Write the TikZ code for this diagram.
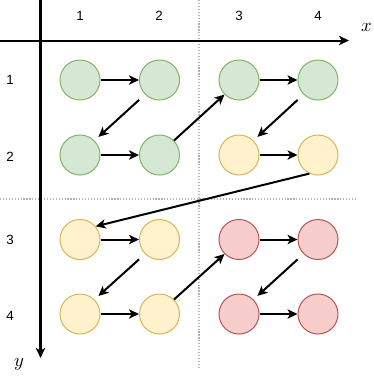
\documentclass[tikz,border=0pt]{standalone}
\usepackage{fontspec}
\setmainfont{Liberation Sans}
\usepackage{unicode-math}
\setmathfont{Latin Modern Math}
\usetikzlibrary{arrows.meta}
\definecolor{gfill}{HTML}{D5E8D4}\definecolor{gline}{HTML}{82B366}
\definecolor{yfill}{HTML}{FFF2CC}\definecolor{yline}{HTML}{D6B656}
\definecolor{rfill}{HTML}{F8CECC}\definecolor{rline}{HTML}{B85450}
\tikzset{
  cell/.style={circle,minimum size=30pt,inner sep=0pt,line width=0.75pt},
  gcell/.style={cell,fill=gfill,draw=gline},
  ycell/.style={cell,fill=yfill,draw=yline},
  rcell/.style={cell,fill=rfill,draw=rline},
  conn/.style={line width=1.5pt,-{Stealth[length=7.5pt,width=7pt,inset=2pt]}},
  axis/.style={line width=1.5pt,-{Stealth[length=7.5pt,width=7pt,inset=2pt]}},
  grid/.style={line width=1.1pt,color=black!30,dash pattern=on 0.9pt off 1.3pt},
  num/.style={font=\fontsize{10}{12}\selectfont,inner sep=0pt},
  axlab/.style={font=\fontsize{14}{16}\selectfont,inner sep=0pt}
}
\begin{document}
\begin{tikzpicture}[x=0.75pt,y=-0.75pt]
\useasboundingbox (0,0) rectangle (374,376);
% dotted grid
\coordinate (vt) at (199,0); \coordinate (vb) at (199,368);
\coordinate (hl) at (0,199); \coordinate (hr) at (357,199);
\draw[grid] (vt) -- (vb);
\draw[grid] (hl) -- (hr);
% axes
\coordinate (xs) at (0,40.5); \coordinate (xe) at (349,40.5);
\coordinate (ys) at (40.5,0); \coordinate (ye) at (40.5,358);
\draw[axis] (xs) -- (xe);
\draw[axis] (ys) -- (ye);
\node[axlab] (xl) at (367,27) {$x$};
\node[axlab] (yl) at (19,364) {$y$};
% labels
\node[num] (c1) at (80,16) {1};
\node[num] (c2) at (159,16) {2};
\node[num] (c3) at (239,16) {3};
\node[num] (c4) at (318,16) {4};
\node[num] (r1) at (10,80) {1};
\node[num] (r2) at (10,157) {2};
\node[num] (r3) at (10,240) {3};
\node[num] (r4) at (10,316) {4};
% cells
\node[gcell] (a11) at (80,80) {};
\node[gcell] (a12) at (159.5,80) {};
\node[gcell] (a21) at (80,155) {};
\node[gcell] (a22) at (159.5,155) {};
\node[gcell] (a13) at (239,80) {};
\node[gcell] (a14) at (318,80) {};
\node[ycell] (a23) at (239,155) {};
\node[ycell] (a24) at (318,155) {};
\node[ycell] (a31) at (80,239.5) {};
\node[ycell] (a32) at (159.5,239.5) {};
\node[ycell] (a41) at (80,314) {};
\node[ycell] (a42) at (159.5,314) {};
\node[rcell] (a33) at (239,239.5) {};
\node[rcell] (a34) at (318,239.5) {};
\node[rcell] (a43) at (239,314) {};
\node[rcell] (a44) at (318,314) {};
% arrows
\draw[conn] (a11) -- (a12);
\draw[conn] (a21) -- (a22);
\draw[conn] (a13) -- (a14);
\draw[conn] (a23) -- (a24);
\draw[conn] (a31) -- (a32);
\draw[conn] (a41) -- (a42);
\draw[conn] (a33) -- (a34);
\draw[conn] (a43) -- (a44);
\draw[conn,shorten <=6pt,shorten >=4pt] (a12.225) -- (a21.45);
\draw[conn,shorten <=6pt,shorten >=4pt] (a14.225) -- (a23.45);
\draw[conn,shorten <=6pt,shorten >=4pt] (a32.225) -- (a41.45);
\draw[conn,shorten <=6pt,shorten >=4pt] (a34.225) -- (a43.45);
\draw[conn] (a22.45) -- (a13.225);
\draw[conn] (a42.45) -- (a33.225);
\draw[conn] (a24.-115) -- (a31.40);
\end{tikzpicture}
\end{document}
